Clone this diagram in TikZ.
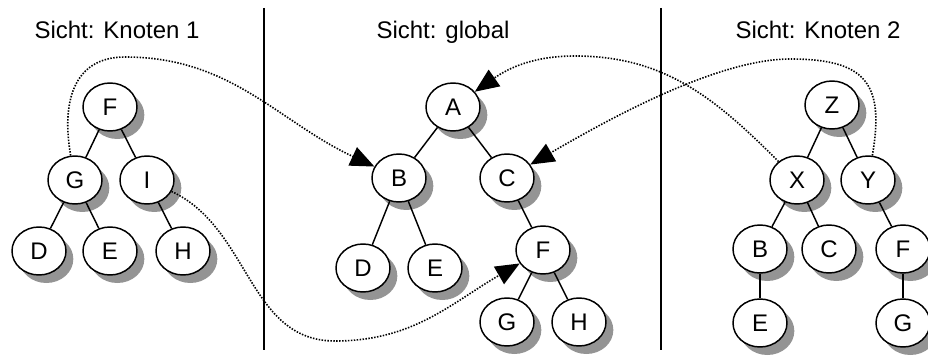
\documentclass[tikz,border=0pt]{standalone}
\usepackage{fontspec}
\setmainfont{Liberation Sans}
\usetikzlibrary{arrows.meta}
\usetikzlibrary{shadows}
\usetikzlibrary{shapes.geometric}

\tikzset{
    knoten/.style={ellipse, draw, line width=1.1pt, fill=white, inner sep=0pt,
        minimum width=40.5pt, minimum height=36pt,
        drop shadow={shadow xshift=5.5pt, shadow yshift=-6pt, fill=black!42, opacity=1}},
    kante/.style={line width=1.1pt},
    verweis/.style={line width=1.2pt, dash pattern=on 1.1pt off 1.1pt,
        -{Triangle[length=18pt, width=15pt]}},
    titel/.style={anchor=base},
    trenner/.style={line width=1.5pt}
}

\begin{document}
\begin{tikzpicture}[x=0.75pt, y=0.75pt, font=\fontsize{18}{21}\selectfont]
        \useasboundingbox (0,0) rectangle (928,-356);
        \node[titel] (t1) at (117,-39) {Sicht: Knoten 1};
        \node[titel] (t2) at (443,-39) {Sicht: global};
        \node[titel] (t3) at (818,-39) {Sicht: Knoten 2};
        \draw[trenner] (264,-8) -- (264,-350);
        \draw[trenner] (661,-8) -- (661,-350);
        % Knoten 1
        \node[knoten] (lF) at (110,-107) {F};
        \node[knoten] (lG) at ( 75,-180) {G};
        \node[knoten] (lI) at (147,-180) {I};
        \node[knoten] (lD) at ( 39,-251) {D};
        \node[knoten] (lE) at (110,-251) {E};
        \node[knoten] (lH) at (183,-251) {H};
        \draw[kante] (lF) -- (lG);
        \draw[kante] (lF) -- (lI);
        \draw[kante] (lG) -- (lD);
        \draw[kante] (lG) -- (lE);
        \draw[kante] (lI) -- (lH);
        % global
        \node[knoten] (A)  at (453,-107) {A};
        \node[knoten] (B)  at (399,-178) {B};
        \node[knoten] (C)  at (507,-178) {C};
        \node[knoten] (mD) at (363,-268) {D};
        \node[knoten] (mE) at (435,-268) {E};
        \node[knoten] (mF) at (543,-250) {F};
        \node[knoten] (mG) at (507,-322) {G};
        \node[knoten] (mH) at (579,-322) {H};
        \draw[kante] (A) -- (B);
        \draw[kante] (A) -- (C);
        \draw[kante] (B) -- (mD);
        \draw[kante] (B) -- (mE);
        \draw[kante] (C) -- (mF);
        \draw[kante] (mF) -- (mG);
        \draw[kante] (mF) -- (mH);
        % Knoten 2
        \node[knoten] (Z)  at (832,-105) {Z};
        \node[knoten] (X)  at (797,-180) {X};
        \node[knoten] (Y)  at (868,-180) {Y};
        \node[knoten] (rB) at (760,-249) {B};
        \node[knoten] (rC) at (829,-249) {C};
        \node[knoten] (rF) at (903,-249) {F};
        \node[knoten] (rE) at (760,-323) {E};
        \node[knoten] (rG) at (903,-323) {G};
        \draw[kante] (Z) -- (X);
        \draw[kante] (Z) -- (Y);
        \draw[kante] (X) -- (rB);
        \draw[kante] (X) -- (rC);
        \draw[kante] (Y) -- (rF);
        \draw[kante] (rB) -- (rE);
        \draw[kante] (rF) -- (rG);
        % Verweise
        \draw[verweis] (lG) to[out=100, in=180, looseness=1.2] (125,-57) to[out=0, in=155] (B);
        \draw[verweis] (lI) to[out=-25, in=180] (335,-341) to[out=0, in=210] (mF);
        \draw[verweis] (X) to[out=135, in=0] (575,-56) to[out=180, in=35] (A);
        \draw[verweis] (Y) to[out=80, in=0, looseness=1.5] (790,-59) to[out=180, in=30, looseness=0.7] (C);
    \end{tikzpicture}
\end{document}
